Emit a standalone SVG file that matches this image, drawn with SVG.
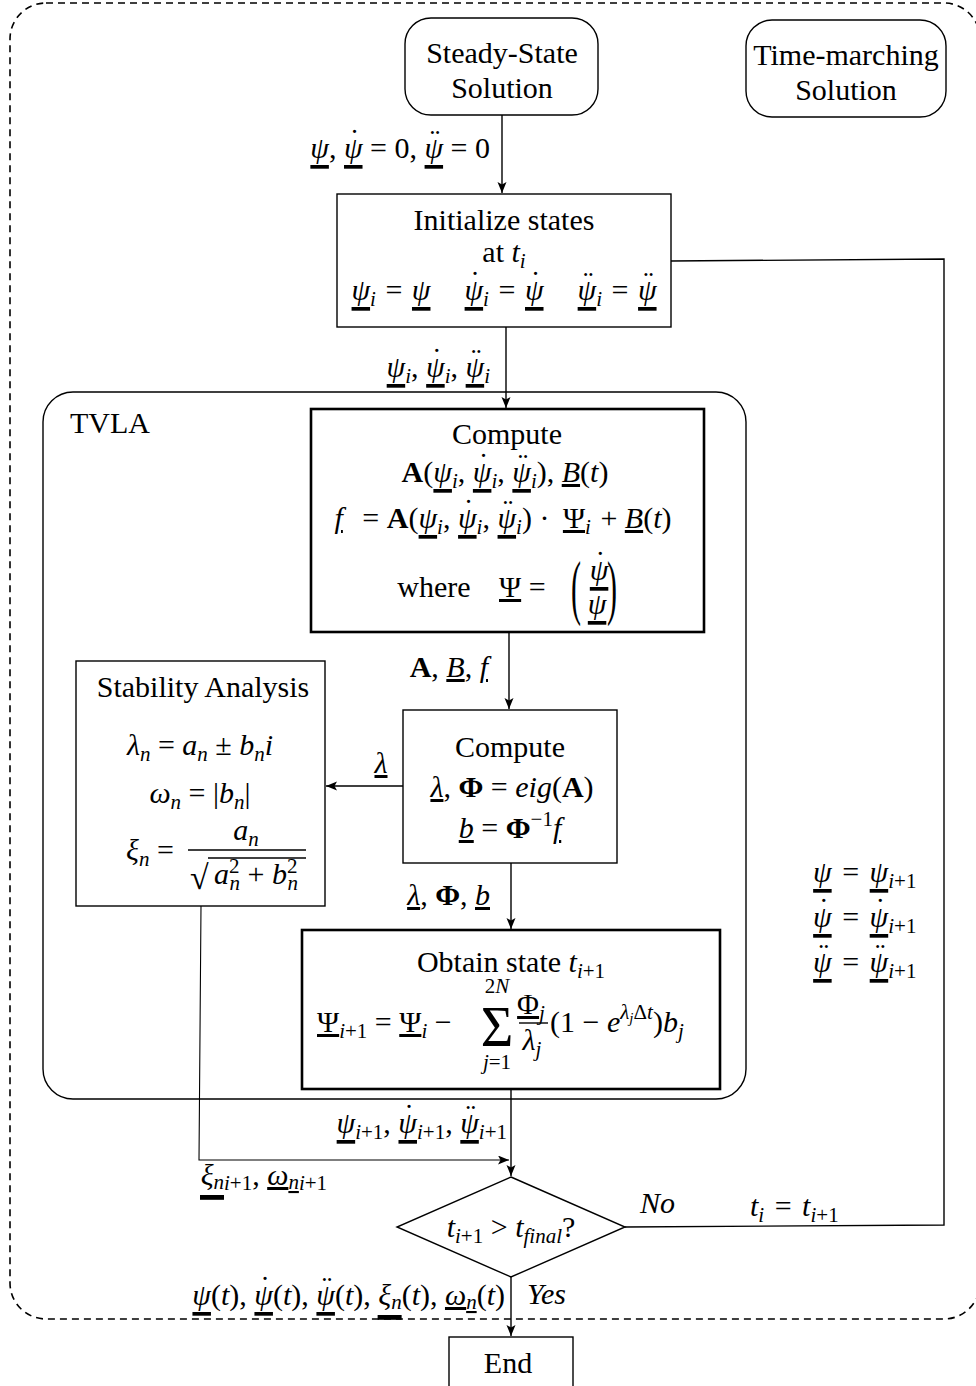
<svg xmlns="http://www.w3.org/2000/svg" width="976" height="1386" viewBox="0 0 976 1386">
  <style>
    text { font-family: "Liberation Serif", "DejaVu Serif", serif; font-size: 30px; fill: #000; }
    .i { font-style: italic; }
    .b { font-weight: bold; }
    .u { text-decoration: underline; text-decoration-thickness: 2px; }
    /* underline bar drawn beneath a preceding glyph: an en space half as wide as the glyph box */
    .ul { font-size: 37px; font-style: normal; text-decoration: underline; text-decoration-thickness: 2px; }
    .s { font-size: 21px; }
    .ss { font-size: 15px; }
    .box { fill: #fff; stroke: #000; stroke-width: 1.4; }
    .frame { fill: none; stroke: #000; stroke-width: 1.4; }
    .thick { fill: #fff; stroke: #000; stroke-width: 2.6; }
    .edge { fill: none; stroke: #000; stroke-width: 1.4; }
    .thin { fill: none; stroke: #000; stroke-width: 1.1; }
    .bar { stroke: #000; stroke-width: 1.4; }
  </style>
  <defs>
    <marker id="arrow" markerUnits="userSpaceOnUse" markerWidth="12" markerHeight="10" refX="11" refY="4.5" orient="auto">
      <path d="M0,0 L11,4.5 L0,9 L2.5,4.5 z" fill="#000"/>
    </marker>
  </defs>

  <!-- outer time-marching frame -->
  <rect x="10" y="3" width="970" height="1316" rx="36" fill="none" stroke="#000" stroke-width="1.6" stroke-dasharray="7 5"/>

  <!-- TVLA container -->
  <g id="tvla">
    <rect x="43" y="392" width="703" height="707" rx="30" class="frame"/>
    <text x="70" y="433">TVLA</text>
  </g>

  <!-- connectors -->
  <g id="connectors">
    <line x1="502" y1="115" x2="502" y2="193" class="edge" marker-end="url(#arrow)"/>
    <line x1="506" y1="327" x2="506" y2="408" class="edge" marker-end="url(#arrow)"/>
    <line x1="509" y1="632" x2="509" y2="709" class="edge" marker-end="url(#arrow)"/>
    <line x1="403" y1="786" x2="326" y2="786" class="edge" marker-end="url(#arrow)"/>
    <line x1="511" y1="863" x2="511" y2="929" class="edge" marker-end="url(#arrow)"/>
    <line x1="511" y1="1089" x2="511" y2="1176" class="edge" marker-end="url(#arrow)"/>
    <polyline points="201,906 199,1160 509,1160" class="thin" marker-end="url(#arrow)"/>
    <polyline points="625,1227 944,1225 944,259 671,261" class="edge"/>
    <line x1="511" y1="1277" x2="511" y2="1336" class="edge" marker-end="url(#arrow)"/>

    <!-- edge labels -->
    <text x="490" y="158" text-anchor="end"><tspan class="i">ψ</tspan><tspan class="ul" dx="-18.5" dy="5">&#x2002;</tspan><tspan dy="-5">, </tspan><tspan class="i">ψ</tspan><tspan class="ul" dx="-18.5" dy="5">&#x2002;</tspan><tspan dx="-13" dy="-13">˙</tspan><tspan dx="3" dy="8"> = 0, </tspan><tspan class="i">ψ</tspan><tspan class="ul" dx="-18.5" dy="5">&#x2002;</tspan><tspan dx="-13" dy="-13">¨</tspan><tspan dx="3" dy="8"> = 0</tspan></text>
    <text x="490" y="377" text-anchor="end"><tspan class="i">ψ</tspan><tspan class="ul" dx="-18.5" dy="5">&#x2002;</tspan><tspan class="i s" dy="1">i</tspan><tspan dy="-6">, </tspan><tspan class="i">ψ</tspan><tspan class="ul" dx="-18.5" dy="5">&#x2002;</tspan><tspan dx="-13" dy="-13">˙</tspan><tspan class="i s" dx="3" dy="14">i</tspan><tspan dy="-6">, </tspan><tspan class="i">ψ</tspan><tspan class="ul" dx="-18.5" dy="5">&#x2002;</tspan><tspan dx="-13" dy="-13">¨</tspan><tspan class="i s" dx="3" dy="14">i</tspan></text>
    <text x="488" y="677" text-anchor="end"><tspan class="b">A</tspan>, <tspan class="i u">B</tspan>, <tspan class="i u">f</tspan></text>
    <text x="381" y="773" text-anchor="middle" class="i u">λ</text>
    <text x="490" y="905" text-anchor="end"><tspan class="i u">λ</tspan>, <tspan class="b">Φ</tspan>, <tspan class="i u">b</tspan></text>
    <text x="507" y="1133" text-anchor="end"><tspan class="i">ψ</tspan><tspan class="ul" dx="-18.5" dy="5">&#x2002;</tspan><tspan class="i s" dy="1">i</tspan><tspan class="s">+1</tspan><tspan dy="-6">, </tspan><tspan class="i">ψ</tspan><tspan class="ul" dx="-18.5" dy="5">&#x2002;</tspan><tspan dx="-13" dy="-13">˙</tspan><tspan class="i s" dx="3" dy="14">i</tspan><tspan class="s">+1</tspan><tspan dy="-6">, </tspan><tspan class="i">ψ</tspan><tspan class="ul" dx="-18.5" dy="5">&#x2002;</tspan><tspan dx="-13" dy="-13">¨</tspan><tspan class="i s" dx="3" dy="14">i</tspan><tspan class="s">+1</tspan></text>
    <text x="200" y="1185"><tspan class="i">ξ</tspan><tspan class="i s" dy="4">n</tspan><tspan class="ul" dx="-24" dy="3" style="font-size:48px">&#x2002;</tspan><tspan class="i s" dy="-2">i</tspan><tspan class="s">+1</tspan><tspan dy="-5">, </tspan><tspan class="i u">ω<tspan class="s" dy="4">n</tspan></tspan><tspan class="i s" dy="1">i</tspan><tspan class="s">+1</tspan></text>
    <text x="640" y="1213" class="i">No</text>
    <text x="750" y="1216"><tspan class="i">t</tspan><tspan class="i s" dy="6">i</tspan><tspan dy="-6" dx="3"> = </tspan><tspan class="i" dx="3">t</tspan><tspan class="i s" dy="6">i</tspan><tspan class="s">+1</tspan></text>
    <text x="813" y="882"><tspan class="i">ψ</tspan><tspan class="ul" dx="-18.5" dy="5">&#x2002;</tspan><tspan dy="-5" dx="3"> = </tspan><tspan class="i" dx="3">ψ</tspan><tspan class="ul" dx="-18.5" dy="5">&#x2002;</tspan><tspan class="i s" dy="1">i</tspan><tspan class="s">+1</tspan></text>
    <text x="813" y="927"><tspan class="i">ψ</tspan><tspan class="ul" dx="-18.5" dy="5">&#x2002;</tspan><tspan dx="-13" dy="-13">˙</tspan><tspan dx="6" dy="8"> = </tspan><tspan class="i" dx="3">ψ</tspan><tspan class="ul" dx="-18.5" dy="5">&#x2002;</tspan><tspan dx="-13" dy="-13">˙</tspan><tspan class="i s" dx="3" dy="14">i</tspan><tspan class="s">+1</tspan></text>
    <text x="813" y="972"><tspan class="i">ψ</tspan><tspan class="ul" dx="-18.5" dy="5">&#x2002;</tspan><tspan dx="-13" dy="-13">¨</tspan><tspan dx="6" dy="8"> = </tspan><tspan class="i" dx="3">ψ</tspan><tspan class="ul" dx="-18.5" dy="5">&#x2002;</tspan><tspan dx="-13" dy="-13">¨</tspan><tspan class="i s" dx="3" dy="14">i</tspan><tspan class="s">+1</tspan></text>
    <text x="527" y="1304" class="i">Yes</text>
    <text x="505" y="1305" text-anchor="end"><tspan class="i">ψ</tspan><tspan class="ul" dx="-18.5" dy="5">&#x2002;</tspan><tspan dy="-5">(</tspan><tspan class="i">t</tspan>), <tspan class="i">ψ</tspan><tspan class="ul" dx="-18.5" dy="5">&#x2002;</tspan><tspan dx="-13" dy="-13">˙</tspan><tspan dx="3" dy="8">(</tspan><tspan class="i">t</tspan>), <tspan class="i">ψ</tspan><tspan class="ul" dx="-18.5" dy="5">&#x2002;</tspan><tspan dx="-13" dy="-13">¨</tspan><tspan dx="3" dy="8">(</tspan><tspan class="i">t</tspan>), <tspan class="i">ξ</tspan><tspan class="i s" dy="4">n</tspan><tspan class="ul" dx="-24" dy="3" style="font-size:48px">&#x2002;</tspan><tspan dy="-7">(</tspan><tspan class="i">t</tspan>), <tspan class="i u">ω<tspan class="s" dy="4">n</tspan></tspan><tspan dy="-4">(</tspan><tspan class="i">t</tspan>)</text>
  </g>

  <g id="steady-state">
    <rect x="405" y="18" width="193" height="97" rx="26" class="box"/>
    <text x="502" y="63" text-anchor="middle">Steady-State</text>
    <text x="502" y="98" text-anchor="middle">Solution</text>
  </g>

  <g id="time-marching">
    <rect x="746" y="20" width="200" height="97" rx="26" class="box"/>
    <text x="846" y="65" text-anchor="middle">Time-marching</text>
    <text x="846" y="100" text-anchor="middle">Solution</text>
  </g>

  <g id="initialize">
    <rect x="337" y="194" width="334" height="133" class="box"/>
    <text x="504" y="230" text-anchor="middle">Initialize states</text>
    <text x="504" y="262" text-anchor="middle">at <tspan class="i">t</tspan><tspan class="i s" dy="6">i</tspan></text>
    <text x="504" y="300" text-anchor="middle"><tspan class="i">ψ</tspan><tspan class="ul" dx="-18.5" dy="5">&#x2002;</tspan><tspan class="i s" dy="1">i</tspan><tspan dy="-6" dx="2"> = </tspan><tspan class="i" dx="2">ψ</tspan><tspan class="ul" dx="-18.5" dy="5">&#x2002;</tspan><tspan dx="34" dy="-5" class="i">ψ</tspan><tspan class="ul" dx="-18.5" dy="5">&#x2002;</tspan><tspan dx="-13" dy="-13">˙</tspan><tspan class="i s" dx="3" dy="14">i</tspan><tspan dy="-6" dx="2"> = </tspan><tspan class="i" dx="2">ψ</tspan><tspan class="ul" dx="-18.5" dy="5">&#x2002;</tspan><tspan dx="-13" dy="-13">˙</tspan><tspan dx="37" dy="8" class="i">ψ</tspan><tspan class="ul" dx="-18.5" dy="5">&#x2002;</tspan><tspan dx="-13" dy="-13">¨</tspan><tspan class="i s" dx="3" dy="14">i</tspan><tspan dy="-6" dx="2"> = </tspan><tspan class="i" dx="2">ψ</tspan><tspan class="ul" dx="-18.5" dy="5">&#x2002;</tspan><tspan dx="-13" dy="-13">¨</tspan></text>
  </g>

  <g id="compute-system">
    <rect x="311" y="409" width="393" height="223" class="thick"/>
    <text x="507" y="444" text-anchor="middle">Compute</text>
    <text x="505" y="482" text-anchor="middle"><tspan class="b">A</tspan>(<tspan class="i">ψ</tspan><tspan class="ul" dx="-18.5" dy="5">&#x2002;</tspan><tspan class="i s" dy="1">i</tspan><tspan dy="-6">, </tspan><tspan class="i">ψ</tspan><tspan class="ul" dx="-18.5" dy="5">&#x2002;</tspan><tspan dx="-13" dy="-13">˙</tspan><tspan class="i s" dx="3" dy="14">i</tspan><tspan dy="-6">, </tspan><tspan class="i">ψ</tspan><tspan class="ul" dx="-18.5" dy="5">&#x2002;</tspan><tspan dx="-13" dy="-13">¨</tspan><tspan class="i s" dx="3" dy="14">i</tspan><tspan dy="-6">), </tspan><tspan class="i u">B</tspan>(<tspan class="i">t</tspan>)</text>
    <text x="503" y="528" text-anchor="middle"><tspan class="i u">f</tspan><tspan dx="12"> = </tspan><tspan class="b">A</tspan>(<tspan class="i">ψ</tspan><tspan class="ul" dx="-18.5" dy="5">&#x2002;</tspan><tspan class="i s" dy="1">i</tspan><tspan dy="-6">, </tspan><tspan class="i">ψ</tspan><tspan class="ul" dx="-18.5" dy="5">&#x2002;</tspan><tspan dx="-13" dy="-13">˙</tspan><tspan class="i s" dx="3" dy="14">i</tspan><tspan dy="-6">, </tspan><tspan class="i">ψ</tspan><tspan class="ul" dx="-18.5" dy="5">&#x2002;</tspan><tspan dx="-13" dy="-13">¨</tspan><tspan class="i s" dx="3" dy="14">i</tspan><tspan dy="-6">) · </tspan><tspan dx="6" class="u">Ψ</tspan><tspan class="i s" dy="6">i</tspan><tspan dy="-6" dx="2"> + </tspan><tspan class="i u">B</tspan>(<tspan class="i">t</tspan>)</text>
    <text x="434" y="597" text-anchor="middle">where</text>
    <text x="499" y="597"><tspan class="u">Ψ</tspan> =</text>
    <text x="599" y="580" text-anchor="middle"><tspan class="i">ψ</tspan><tspan class="ul" dx="-18.5" dy="5">&#x2002;</tspan><tspan dx="-13" dy="-13">˙</tspan></text>
    <text x="597" y="614" text-anchor="middle"><tspan class="i">ψ</tspan><tspan class="ul" dx="-18.5" dy="5">&#x2002;</tspan></text>
    <text transform="translate(576,611) scale(1,2.4)" text-anchor="middle">(</text>
    <text transform="translate(612,611) scale(1,2.4)" text-anchor="middle">)</text>
  </g>

  <g id="compute-eigen">
    <rect x="403" y="710" width="214" height="153" class="box"/>
    <text x="510" y="757" text-anchor="middle">Compute</text>
    <text x="512" y="797" text-anchor="middle"><tspan class="i u">λ</tspan>, <tspan class="b">Φ</tspan> = <tspan class="i">eig</tspan>(<tspan class="b">A</tspan>)</text>
    <text x="510" y="838" text-anchor="middle"><tspan class="i u">b</tspan> = <tspan class="b">Φ</tspan><tspan class="s" dy="-12">−1</tspan><tspan class="i u" dy="12">f</tspan></text>
  </g>

  <g id="stability">
    <rect x="76" y="661" width="249" height="245" class="box"/>
    <text x="203" y="697" text-anchor="middle">Stability Analysis</text>
    <text x="200" y="755" text-anchor="middle"><tspan class="i">λ</tspan><tspan class="i s" dy="6">n</tspan><tspan dy="-6"> = </tspan><tspan class="i">a</tspan><tspan class="i s" dy="6">n</tspan><tspan dy="-6"> ± </tspan><tspan class="i">b</tspan><tspan class="i s" dy="6">n</tspan><tspan class="i" dy="-6">i</tspan></text>
    <text x="200" y="803" text-anchor="middle"><tspan class="i">ω</tspan><tspan class="i s" dy="6">n</tspan><tspan dy="-6"> = |</tspan><tspan class="i">b</tspan><tspan class="i s" dy="6">n</tspan><tspan dy="-6">|</tspan></text>
    <text x="150" y="860" text-anchor="middle"><tspan class="i">ξ</tspan><tspan class="i s" dy="6">n</tspan><tspan dy="-6"> =</tspan></text>
    <text x="246" y="840" text-anchor="middle"><tspan class="i">a</tspan><tspan class="i s" dy="6">n</tspan></text>
    <line x1="188" y1="850" x2="306" y2="850" class="bar"/>
    <text x="190" y="889" style="font-size:34px">√</text>
    <line x1="208" y1="858" x2="306" y2="858" class="bar" stroke-width="1.2"/>
    <text x="256" y="884" text-anchor="middle"><tspan class="i">a</tspan><tspan class="s" dy="-11">2</tspan><tspan class="i s" dx="-10" dy="17">n</tspan><tspan dy="-6"> + </tspan><tspan class="i">b</tspan><tspan class="s" dy="-11">2</tspan><tspan class="i s" dx="-10" dy="17">n</tspan></text>
  </g>

  <g id="obtain-state">
    <rect x="302" y="930" width="418" height="159" class="thick"/>
    <text x="511" y="972" text-anchor="middle">Obtain state <tspan class="i">t</tspan><tspan class="i s" dy="6">i</tspan><tspan class="s">+1</tspan></text>
    <text x="317" y="1032"><tspan class="u">Ψ</tspan><tspan class="i s" dy="6">i</tspan><tspan class="s">+1</tspan><tspan dy="-6"> = </tspan><tspan class="u">Ψ</tspan><tspan class="i s" dy="6">i</tspan><tspan dy="-6"> −</tspan></text>
    <text x="497" y="1046" text-anchor="middle" style="font-size:56px">Σ</text>
    <text x="497" y="993" text-anchor="middle" class="s">2<tspan class="i">N</tspan></text>
    <text x="497" y="1069" text-anchor="middle" class="s"><tspan class="i">j</tspan>=1</text>
    <text x="531" y="1014" text-anchor="middle"><tspan class="u">Φ</tspan><tspan class="i s" dy="6">j</tspan></text>
    <line x1="519" y1="1023" x2="548" y2="1023" class="bar"/>
    <text x="532" y="1050" text-anchor="middle"><tspan class="i">λ</tspan><tspan class="i s" dy="6">j</tspan></text>
    <text x="550" y="1032">(1 − <tspan class="i">e</tspan><tspan class="i s" dy="-13">λ</tspan><tspan class="i ss" dy="4">j</tspan><tspan class="s" dy="-4">Δ</tspan><tspan class="i s">t</tspan><tspan dy="13">)</tspan><tspan class="i">b</tspan><tspan class="i s" dy="6">j</tspan></text>
  </g>

  <g id="decision">
    <polygon points="511,1177 625,1227 511,1277 397,1227" class="box"/>
    <text x="511" y="1237" text-anchor="middle"><tspan class="i">t</tspan><tspan class="i s" dy="6">i</tspan><tspan class="s">+1</tspan><tspan dy="-6"> &gt; </tspan><tspan class="i">t</tspan><tspan class="i s" dy="6">final</tspan><tspan dy="-6">?</tspan></text>
  </g>

  <g id="end">
    <rect x="449" y="1337" width="124" height="60" class="box"/>
    <text x="508" y="1373" text-anchor="middle">End</text>
  </g>
</svg>
